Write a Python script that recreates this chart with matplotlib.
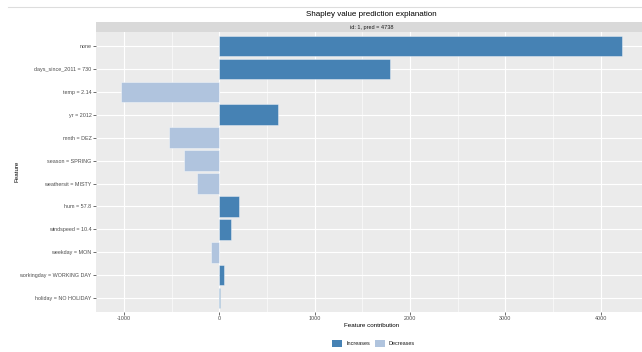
import matplotlib
matplotlib.use("Agg")
import matplotlib.pyplot as plt
from matplotlib.patches import Patch
from matplotlib.lines import Line2D
from matplotlib.ticker import MultipleLocator

plt.rcParams["font.family"] = ["Liberation Sans", "DejaVu Sans"]

features = [
    "none",
    "days_since_2011 = 730",
    "temp = 2.14",
    "yr = 2012",
    "mnth = DEZ",
    "season = SPRING",
    "weathersit = MISTY",
    "hum = 57.8",
    "windspeed = 10.4",
    "weekday = MON",
    "workingday = WORKING DAY",
    "holiday = NO HOLIDAY",
]
contributions = [4227, 1792, -1034, 611, -530, -376, -239, 203, 120, -89, 51, 12]
x_ticks = [-1000, 0, 1000, 2000, 3000, 4000]
strip_label = "id: 1, pred = 4738"
legend_labels = ["Increases", "Decreases"]

W, H = 642, 352
fig = plt.figure(figsize=(W / 100, H / 100), dpi=100)

inc_col = "#4682B4"
dec_col = "#B0C4DE"
panel_bg = "#EBEBEB"
tick_col = "#4D4D4D"

# panel geometry in pixels
left_px, right_px = 95.7, 647.4
top_px, bottom_px = 32.3, 311.8
strip_top = 21.7

ax = fig.add_axes([left_px / W, 1 - bottom_px / H,
                   (right_px - left_px) / W, (bottom_px - top_px) / H])
ax.set_facecolor(panel_bg)

ypos = list(range(len(features)))
colors = [inc_col if v > 0 else dec_col for v in contributions]
ax.barh(ypos, contributions, height=0.9, color=colors,
        edgecolor=(1, 1, 1, 0.45), linewidth=0.6, zorder=3)

span = max(contributions) - min(contributions)
ax.set_xlim(min(contributions) - 0.05 * span, max(contributions) + 0.05 * span)
ax.set_ylim(len(features) - 1 + 0.6, -0.6)

ax.set_xticks(x_ticks)
ax.set_xticklabels([str(t) for t in x_ticks])
ax.xaxis.set_minor_locator(MultipleLocator(500))
ax.set_yticks(ypos)
ax.set_yticklabels(features)

ax.grid(True, which="major", color="white", linewidth=0.8, zorder=0)
ax.grid(True, which="minor", axis="x", color="white", linewidth=0.4, zorder=0)
ax.set_axisbelow(True)
for s in ax.spines.values():
    s.set_visible(False)

ax.tick_params(axis="both", which="major", length=2, width=0.5,
               color="#333333", labelsize=3.9, labelcolor=tick_col, pad=1)
ax.tick_params(axis="x", which="minor", length=0)

# facet strip
sax = fig.add_axes([left_px / W, 1 - top_px / H,
                    (right_px - left_px) / W, (top_px - strip_top) / H])
sax.set_facecolor("#D9D9D9")
sax.set_xticks([])
sax.set_yticks([])
for s in sax.spines.values():
    s.set_visible(False)
sax.text(0.5, 0.5, strip_label, transform=sax.transAxes, ha="center",
         va="center", fontsize=4.0, color="#1A1A1A")

cx = (left_px + right_px) / 2 / W
fig.text(cx, 1 - 15 / H, "Shapley value prediction explanation",
         ha="center", va="center", fontsize=5.8, color="black")
fig.text(cx, 1 - 325.5 / H, "Feature contribution", ha="center",
         va="center", fontsize=4.5, color="black")
fig.text(17 / W, 1 - 171 / H, "Feature", ha="center", va="center",
         rotation=90, fontsize=4.5, color="black")

# thin rule along the top
fig.add_artist(Line2D([8 / W, 1], [1 - 7.3 / H, 1 - 7.3 / H],
                      transform=fig.transFigure, color="#DDDDDD", linewidth=0.8))

handles = [Patch(facecolor=inc_col, edgecolor="none"),
           Patch(facecolor=dec_col, edgecolor="none")]
fig.legend(handles, legend_labels, loc="center", bbox_to_anchor=(373.5 / W, 1 - 343.5 / H),
           ncol=2, frameon=False, fontsize=4.0, handlelength=1.8, handleheight=1.6,
           handletextpad=0.7, columnspacing=0.8, borderpad=0, labelcolor="#1A1A1A")

fig.savefig("out.png", dpi=100, facecolor="white")
